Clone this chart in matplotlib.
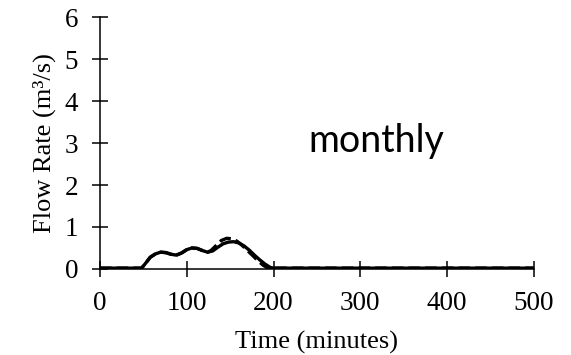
import matplotlib
matplotlib.use('Agg')
import numpy as np
import matplotlib.pyplot as plt

# hydrograph, monthly case
t_solid = [0, 48, 52, 58, 64, 70, 76, 82, 88, 94, 100, 106, 112, 118, 124,
           130, 136, 142, 148, 154, 160, 166, 172, 178, 184, 190, 196, 200, 500]
q_solid = [0.02, 0.02, 0.12, 0.28, 0.36, 0.40, 0.39, 0.35, 0.33, 0.38, 0.46, 0.50,
           0.49, 0.44, 0.40, 0.43, 0.52, 0.60, 0.64, 0.65, 0.62, 0.55, 0.45, 0.33,
           0.22, 0.12, 0.04, 0.02, 0.02]

t_dash = [0, 48, 52, 58, 64, 70, 76, 82, 88, 94, 100, 106, 112, 118, 124,
          128, 134, 140, 146, 152, 158, 164, 170, 176, 182, 188, 194, 500]
q_dash = [0.02, 0.02, 0.12, 0.28, 0.36, 0.40, 0.39, 0.35, 0.33, 0.38, 0.46, 0.50,
          0.49, 0.44, 0.40, 0.44, 0.56, 0.68, 0.73, 0.72, 0.66, 0.56, 0.44, 0.32,
          0.20, 0.09, 0.02, 0.02]

xticks = [0, 100, 200, 300, 400, 500]
yticks = [0, 1, 2, 3, 4, 5, 6]

serif = 'Liberation Serif'

fig = plt.figure(figsize=(5.71, 3.55), dpi=100)
ax = fig.add_axes([0.175, 0.2423, 0.76, 0.7097])

ax.spines['right'].set_color('none')
ax.spines['top'].set_color('none')
for pos in ['left', 'bottom']:
    ax.spines[pos].set_linewidth(1.1)
    ax.spines[pos].set_color('black')

ax.plot(t_solid, q_solid, color='black', linewidth=2.4, solid_capstyle='round')
ax.plot(t_dash, q_dash, color='black', linewidth=2.4, linestyle=(0, (3.5, 1.5)))

ax.set_xlim(0, 500)
ax.set_ylim(0, 6)
ax.set_xticks(xticks)
ax.set_yticks(yticks)
ax.tick_params(direction='inout', length=11.5, width=1.1, labelsize=19.5)
ax.tick_params(axis='x', pad=10)
ax.tick_params(axis='y', pad=10)
for lab in ax.get_xticklabels() + ax.get_yticklabels():
    lab.set_family(serif)

ax.set_xlabel('Time (minutes)', family=serif, fontsize=19, labelpad=10.5)
ax.set_ylabel('Flow Rate (m³/s)', family=serif, fontsize=19, labelpad=6)

ax.text(318, 2.79, 'monthly', family='Lato', fontsize=27, ha='center', va='baseline')

fig.savefig('out.png', dpi=100)
